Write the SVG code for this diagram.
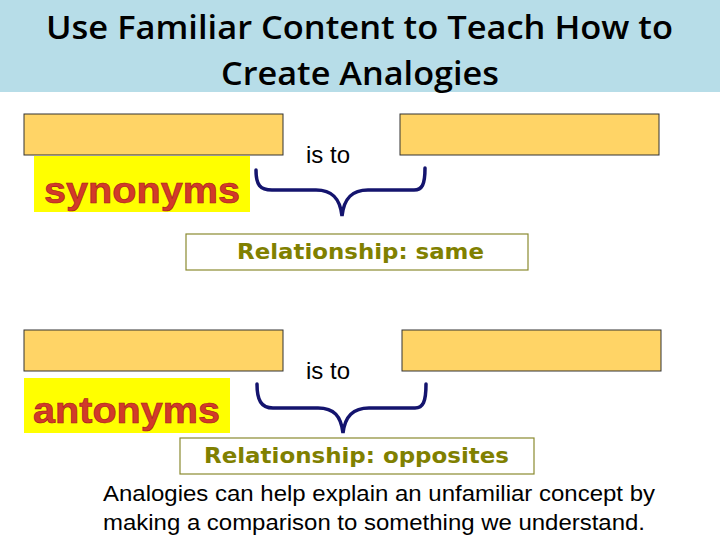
<svg xmlns="http://www.w3.org/2000/svg" width="720" height="540" viewBox="0 0 720 540">
<style>
.title{font-family:"Open Sans","Liberation Sans",sans-serif;font-weight:600;font-size:32px;fill:#000}
.blank{fill:#ffd466;stroke:#333;stroke-width:1}
.hl{fill:#ffff00}
.word{font-family:"Liberation Sans",sans-serif;font-weight:bold;font-size:36px;fill:#d23a2a;stroke:#a01818;stroke-width:0.6}
.isto{font-family:"Liberation Sans",sans-serif;font-size:24px;fill:#000}
.rel{fill:#fff;stroke:#8a8a30;stroke-width:1.2}
.reltxt{font-family:"DejaVu Sans",sans-serif;font-weight:bold;font-size:21px;fill:#808000}
.brace{fill:none;stroke:#14146e;stroke-width:3.5;stroke-linecap:round}
.body{font-family:"Liberation Sans",sans-serif;font-size:22px;fill:#000}
</style>
<rect x="0" y="0" width="720" height="92" fill="#b7dde8"/>
<g id="title">
<text class="title" x="46" y="39" textLength="627" lengthAdjust="spacingAndGlyphs">Use Familiar Content to Teach How to</text>
<text class="title" x="221" y="85" textLength="278" lengthAdjust="spacingAndGlyphs">Create Analogies</text>
</g>
<g id="row1">
<rect class="blank" x="24" y="114" width="259" height="41"/>
<rect class="blank" x="400" y="114" width="259" height="41"/>
<rect class="hl" x="34" y="156" width="216" height="56"/>
<text class="word" x="44" y="203" textLength="196" lengthAdjust="spacingAndGlyphs">synonyms</text>
<text class="isto" x="306" y="163">is to</text>
</g>
<g id="rel1">
<rect class="rel" x="186" y="234" width="342" height="36"/>
<text class="reltxt" x="237" y="259" textLength="247" lengthAdjust="spacingAndGlyphs">Relationship: same</text>
</g>
<g id="row2">
<rect class="blank" x="24" y="330" width="259" height="41"/>
<rect class="blank" x="402" y="330" width="259" height="41"/>
<rect class="hl" x="24" y="378" width="206" height="55"/>
<text class="word" x="33" y="423" textLength="187" lengthAdjust="spacingAndGlyphs">antonyms</text>
<text class="isto" x="306" y="379">is to</text>
</g>
<g id="rel2">
<rect class="rel" x="180" y="438" width="354" height="36"/>
<text class="reltxt" x="204" y="463" textLength="305" lengthAdjust="spacingAndGlyphs">Relationship: opposites</text>
</g>
<g id="connectors">
<path class="brace" d="M256,170 C256,185 260,190 272,190 L316,190 C332,190 340,198 342,216 C344,198 352,190 368,190 L414,190 C422,190 425,185 425,168"/>
<path class="brace" d="M257,384 C257,400 261,408 273,408 L318,408 C334,408 341,416 343,433 C345,416 353,408 369,408 L415,408 C423,408 426,402 426,384"/>
</g>
<g id="caption">
<text class="body" x="103" y="501" textLength="552" lengthAdjust="spacingAndGlyphs">Analogies can help explain an unfamiliar concept by</text>
<text class="body" x="103" y="530" textLength="542" lengthAdjust="spacingAndGlyphs">making a comparison to something we understand.</text>
</g>
</svg>
